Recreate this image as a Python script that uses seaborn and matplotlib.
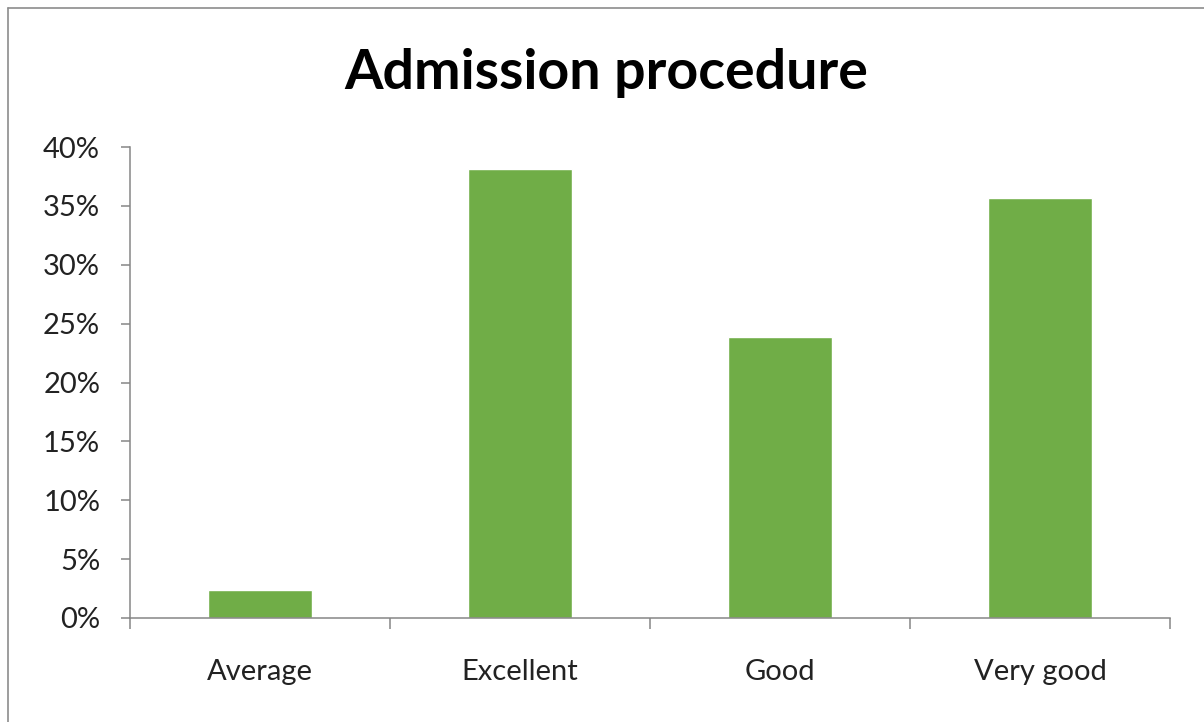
import pandas as pd
import matplotlib.pyplot as plt
import matplotlib.lines as mlines
from matplotlib.ticker import PercentFormatter, FixedLocator
import seaborn as sns

# data
categories = ['Average', 'Excellent', 'Good', 'Very good']
shares = [2.4, 38.1, 23.9, 35.7]

bar_color = '#70AD47'
axis_color = '#868686'


def plot_admission(df):
    sns.set_theme(style='white')
    plt.rcParams['font.family'] = ['Lato', 'DejaVu Sans']

    fig = plt.figure(figsize=(12.04, 7.22), dpi=100)
    ax = fig.add_axes([130 / 1204, 104 / 722, 1040 / 1204, 471 / 722])

    sns.barplot(data=df, x='category', y='share', color=bar_color,
                width=0.4, saturation=1, ax=ax)

    ax.set_xlim(-0.5, len(categories) - 0.5)
    ax.set_ylim(0, 40)
    ax.set_yticks(range(0, 41, 5))
    ax.yaxis.set_major_formatter(PercentFormatter(decimals=0))
    ax.set_xlabel('')
    ax.set_ylabel('')

    # category ticks sit on the boundaries, labels in the middle
    ax.xaxis.set_major_locator(FixedLocator([i - 0.5 for i in range(len(categories) + 1)]))
    ax.xaxis.set_minor_locator(FixedLocator(range(len(categories))))
    ax.set_xticklabels([], minor=False)
    ax.set_xticklabels(categories, minor=True)
    ax.tick_params(axis='x', which='major', direction='out', length=8,
                   width=1.1, color=axis_color, bottom=True)
    ax.tick_params(axis='x', which='minor', length=0, pad=29.5,
                   labelsize=21, labelcolor='#222222')
    ax.tick_params(axis='y', direction='out', length=6.5, width=1.1,
                   color=axis_color, left=True, pad=15,
                   labelsize=21, labelcolor='#222222')

    for side in ['top', 'right']:
        ax.spines[side].set_visible(False)
    for side in ['left', 'bottom']:
        ax.spines[side].set_color(axis_color)
        ax.spines[side].set_linewidth(1.1)

    fig.text(606 / 1204, 1 - 73 / 722, 'Admission procedure', ha='center',
             va='center', fontsize=40, fontweight='bold', color='black')

    # chart frame (only left and top edges visible in the crop)
    x0, y0 = 7.5 / 1204, 1 - 7.5 / 722
    fig.add_artist(mlines.Line2D([x0, x0], [0, y0], color='#8c8c8c', lw=1.2,
                                 transform=fig.transFigure))
    fig.add_artist(mlines.Line2D([x0, 1], [y0, y0], color='#8c8c8c', lw=1.2,
                                 transform=fig.transFigure))

    fig.savefig('out.png', dpi=100)


if __name__ == '__main__':
    data = pd.DataFrame({'category': categories, 'share': shares})
    plot_admission(data)
